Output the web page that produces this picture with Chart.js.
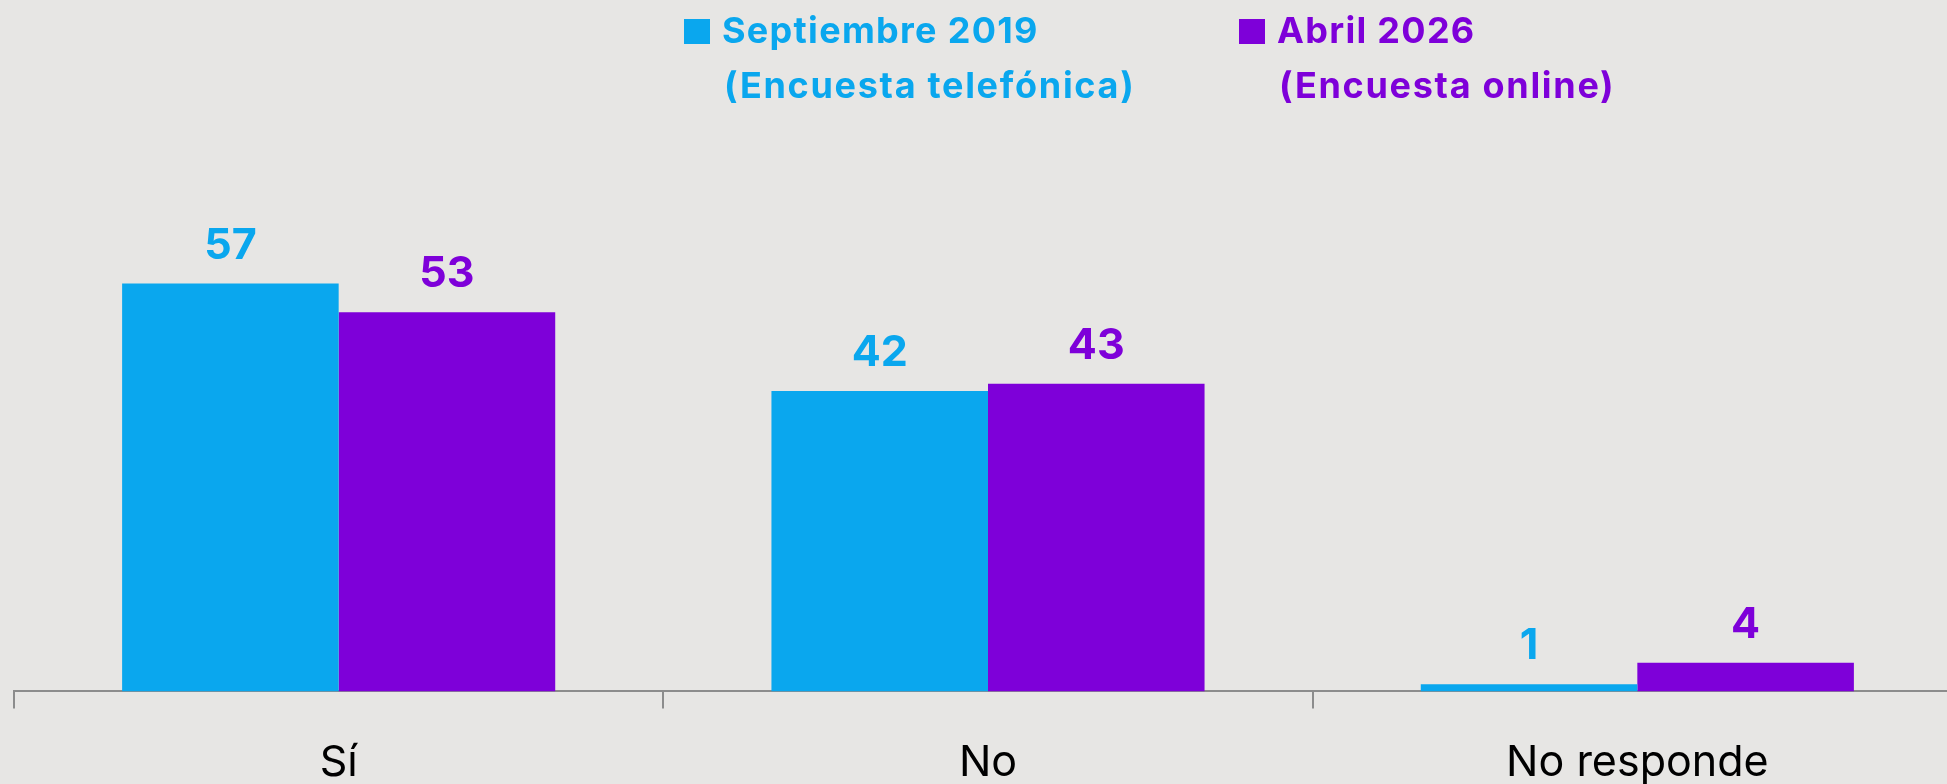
<!DOCTYPE html>
<html lang="es">
<head>
    <meta charset="UTF-8">
    <title>Septiembre 2019 vs Abril 2026</title>
    <script src="https://cdn.jsdelivr.net/npm/chart.js"></script>
    <style>
        html, body { margin: 0; padding: 0; background: #E7E6E4; overflow: hidden; }
        .chart-box { position: relative; width: 1962px; height: 784px; }
    </style>
</head>
<body>
<div class="chart-box"><canvas id="chart"></canvas></div>
<script>
    // datos
    const categories = ["Sí", "No", "No responde"];
    const sept2019 = [57, 42, 1];
    const abril2026 = [53, 43, 4];
    const seriesNames = ["Septiembre 2019", "Abril 2026"];
    const seriesNotes = ["(Encuesta telefónica)", "(Encuesta online)"];

    const BLUE = "#0AA7EE";
    const PURPLE = "#7E00D9";
    const FONT = "Inter, 'Noto Sans', sans-serif";

    // etiquetas de valor encima de cada barra
    const valueLabels = {
        id: "valueLabels",
        afterDatasetsDraw(chart) {
            const ctx = chart.ctx;
            ctx.save();
            ctx.font = "bold 43px " + FONT;
            ctx.textAlign = "center";
            ctx.textBaseline = "alphabetic";
            chart.data.datasets.forEach((ds, i) => {
                chart.getDatasetMeta(i).data.forEach((bar, j) => {
                    ctx.fillStyle = ds.backgroundColor;
                    ctx.fillText(ds.data[j], bar.x, bar.y - 25);
                });
            });
            ctx.restore();
        }
    };

    // leyenda en dos líneas
    const legendBoxes = {
        id: "legendBoxes",
        afterDraw(chart) {
            const ctx = chart.ctx;
            const xs = [684, 1239];
            ctx.save();
            ctx.font = "bold 36px " + FONT;
            ctx.textAlign = "left";
            ctx.textBaseline = "alphabetic";
            chart.data.datasets.forEach((ds, i) => {
                ctx.fillStyle = ds.backgroundColor;
                ctx.fillRect(xs[i], 19, 26, 25);
                ctx.letterSpacing = "1.3px";
                ctx.fillText(ds.label[0], xs[i] + 38, 43);
                ctx.letterSpacing = "1.7px";
                ctx.fillText(ds.label[1], xs[i] + 40, 98);
            });
            ctx.restore();
        }
    };

    new Chart(document.getElementById("chart"), {
        type: "bar",
        data: {
            labels: categories,
            datasets: [
                { label: [seriesNames[0], seriesNotes[0]], data: sept2019, backgroundColor: BLUE },
                { label: [seriesNames[1], seriesNotes[1]], data: abril2026, backgroundColor: PURPLE }
            ]
        },
        options: {
            responsive: true,
            maintainAspectRatio: false,
            animation: false,
            layout: { padding: { left: 14, right: 0, top: 119, bottom: -34 } },
            categoryPercentage: 0.667,
            barPercentage: 1,
            plugins: {
                legend: { display: false },
                tooltip: { enabled: false }
            },
            scales: {
                y: { display: false, min: 0, max: 80 },
                x: {
                    border: { display: true, color: "#8C8C8C", width: 2 },
                    grid: {
                        offset: true,
                        drawOnChartArea: false,
                        drawTicks: true,
                        tickLength: 17,
                        color: "#8C8C8C",
                        lineWidth: 2
                    },
                    ticks: {
                        color: "#000",
                        padding: 29,
                        font: { family: FONT, size: 43, weight: "normal", lineHeight: 1.2 }
                    }
                }
            }
        },
        plugins: [valueLabels, legendBoxes]
    });
</script>
</body>
</html>
